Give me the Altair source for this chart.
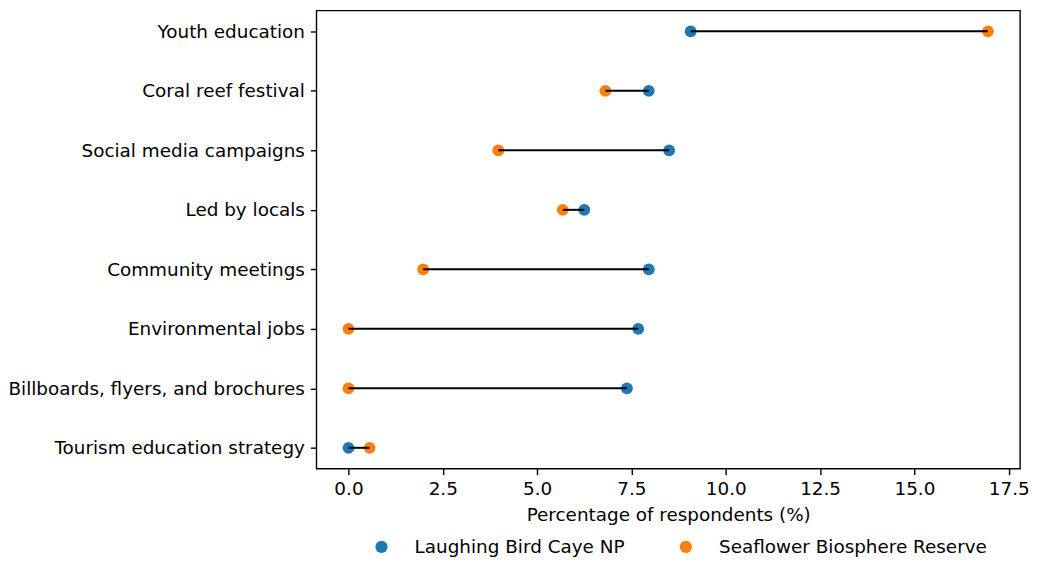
import altair as alt
import pandas as pd

categories = [
    "Youth education",
    "Coral reef festival",
    "Social media campaigns",
    "Led by locals",
    "Community meetings",
    "Environmental jobs",
    "Billboards, flyers, and brochures",
    "Tourism education strategy",
]
laughing_bird = [9.07, 7.96, 8.50, 6.25, 7.96, 7.68, 7.38, 0.0]
seaflower = [16.95, 6.81, 3.97, 5.68, 1.98, 0.0, 0.0, 0.56]
sites = ["Laughing Bird Caye NP", "Seaflower Biosphere Reserve"]
colors = ["#1f77b4", "#ff7f0e"]
x_ticks = [0, 2.5, 5, 7.5, 10, 12.5, 15, 17.5]

wide = pd.DataFrame({"Category": categories, "LBC": laughing_bird, "SBR": seaflower})
long = pd.concat([
    pd.DataFrame({"Category": categories, "Value": laughing_bird, "Site": sites[0]}),
    pd.DataFrame({"Category": categories, "Value": seaflower, "Site": sites[1]}),
])

FONT = "DejaVu Sans"
FS = 18.4
xscale = alt.Scale(domain=[-0.85, 17.80], nice=False, zero=False)
yscale = alt.Scale(type="point", padding=0.35)

xaxis = alt.Axis(values=x_ticks, format=".1f", title="Percentage of respondents (%)",
                 grid=False, domain=False, tickColor="black", tickWidth=1.4, tickSize=6,
                 labelPadding=5, labelFontSize=FS, labelFont=FONT, labelColor="black",
                 titleFontSize=FS, titleFont=FONT, titleFontWeight="normal", titleColor="black",
                 titlePadding=8)
yaxis = alt.Axis(title=None, grid=False, domain=False, tickColor="black", tickWidth=1.4,
                 tickSize=6, labelPadding=6, labelFontSize=FS, labelFont=FONT,
                 labelColor="black", labelLimit=600)

points = alt.Chart(long).mark_circle(size=140, opacity=1).encode(
    x=alt.X("Value:Q", scale=xscale, axis=xaxis),
    y=alt.Y("Category:N", sort=categories, scale=yscale, axis=yaxis),
    color=alt.Color("Site:N", scale=alt.Scale(domain=sites, range=colors),
                    legend=alt.Legend(title=None, orient="none", direction="horizontal",
                                      legendX=56, legendY=528, labelFontSize=FS,
                                      labelFont=FONT, labelColor="black", symbolSize=150,
                                      symbolType="circle", labelOffset=24, columnPadding=52,
                                      labelLimit=600, padding=0)),
)

rules = alt.Chart(wide).mark_rule(color="black", strokeWidth=2).encode(
    x=alt.X("LBC:Q", scale=xscale),
    x2="SBR:Q",
    y=alt.Y("Category:N", sort=categories, scale=yscale),
)

chart = alt.layer(points, rules).properties(
    width=705, height=459,
    padding={"left": 0, "top": 2, "right": 1, "bottom": 0},
    background="white",
).configure_view(stroke="black", strokeWidth=1.4)

chart.save("out.html", embed_options={"renderer": "svg", "actions": False})
